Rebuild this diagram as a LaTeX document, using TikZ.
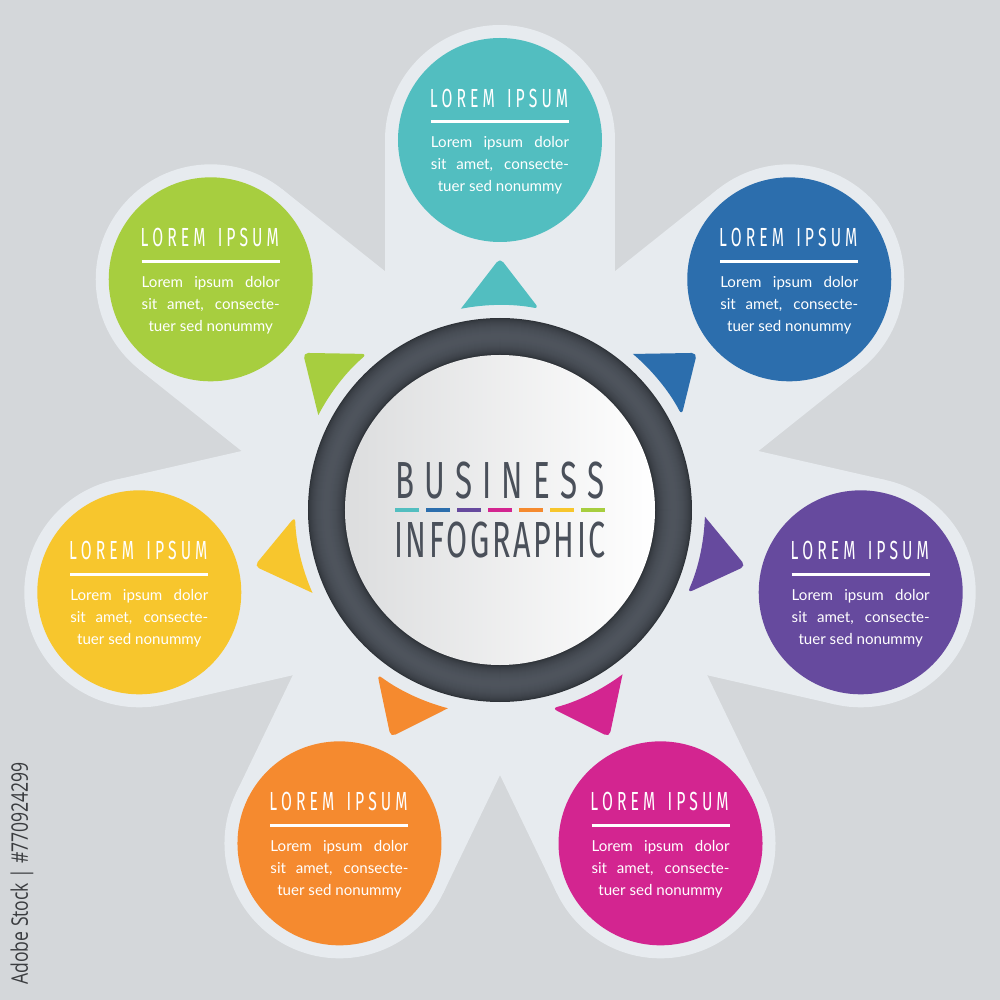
\documentclass[tikz,border=0pt]{standalone}
\usepackage{fontspec}
\setmainfont{Lato}
\newfontfamily\condfont{Fira Sans}[FakeStretch=0.6]
\newfontfamily\stockfont{Open Sans}
\usetikzlibrary{calc}

\definecolor{bgc}{HTML}{D4D7DA}
\definecolor{haloc}{HTML}{E7EBEF}
\definecolor{cteal}{HTML}{52BEC0}
\definecolor{cblue}{HTML}{2C6EAD}
\definecolor{cpurple}{HTML}{664A9E}
\definecolor{cmagenta}{HTML}{D32590}
\definecolor{corange}{HTML}{F58A2F}
\definecolor{cyellow}{HTML}{F7C62D}
\definecolor{cgreen}{HTML}{A7CE3F}
\definecolor{ringlo}{HTML}{2E3238}
\definecolor{ringhi}{HTML}{545A63}
\definecolor{diskg}{HTML}{DCDDDE}
\definecolor{ink}{HTML}{4A505A}
\definecolor{stockc}{HTML}{3A3C3F}

\makeatletter
\newcommand\track[2]{\def\trk@sep{}\@tfor\trk@c:=#2\do{\trk@sep\trk@c\def\trk@sep{\kern#1}}}
\makeatother

\tikzset{
  bubble/.style={circle, inner sep=0pt, minimum size=40.8mm},
  head/.style={inner sep=0pt, text=white, font=\condfont\fontsize{14.9}{15}\selectfont},
  body/.style={inner sep=0pt, anchor=base, text=white, font=\fontsize{8.6}{10}\selectfont},
  bigword/.style={inner sep=0pt, text=ink, font=\condfont\fontsize{29.7}{30}\selectfont}
}

\begin{document}
\begin{tikzpicture}[x=0.2mm, y=0.2mm]
  \useasboundingbox (-500,-490) rectangle (500,510);
  \fill[bgc] (-500,-490) rectangle (500,510);
  % light star behind the bubbles
  \foreach \i in {0,...,6}{
    \pgfmathsetmacro\a{90-\i*360/7}
    \fill[haloc, rotate=\a] (0,-115) rectangle (370,115);
    \fill[haloc] (\a:370) circle (115);
  }
  \node[inner sep=0pt, rotate=90, anchor=west, text=stockc, font=\stockfont\fontsize{13}{13}\selectfont] (stock) at (-478,-475) {\scalebox{0.77}[1]{Adobe Stock | \#770924299}};
  % dark ring and white disk
  \foreach \r in {192,191,...,156}{
    \pgfmathtruncatemacro\p{85*sin(180*(192-\r)/36)^0.6}
    \fill[ringhi!\p!ringlo] (0,0) circle (\r);
  }
  \node[circle, inner sep=0pt, minimum size=62mm, left color=diskg, right color=white] (disk) at (0,0) {};
  \node[bigword] (biz) at (0,29) {\track{5.8pt}{BUSINESS}};
  \node[bigword, font=\condfont\fontsize{28.9}{29}\selectfont] (info) at (0,-30.5) {\track{1.5pt}{INFOGRAPHIC}};
  \foreach \c [count=\k from 0] in {cteal,cblue,cpurple,cmagenta,corange,cyellow,cgreen}
    \fill[\c] (-105+\k*31,-2) rectangle ++(24,4);
  % bubbles, pointers and texts
  \foreach \i/\c in {0/cteal,1/cblue,2/cpurple,3/cmagenta,4/corange,5/cyellow,6/cgreen}{
    \pgfmathsetmacro\a{90-\i*360/7}
    \fill[\c] (\a+11:205) [rounded corners=3pt] -- (\a:252) -- (\a-11:205) [sharp corners] arc[start angle=\a-11, end angle=\a+11, radius=205] -- cycle;
    \node[bubble, fill=\c] (b\i) at (\a:370) {};
    \node[head] (h\i) at ($(b\i)+(-1,42)$) {\track{2.3pt}{LOREM~IPSUM}};
    \draw[white, line width=0.6mm] ($(b\i)+(-69,18)$) -- ($(b\i)+(69,18)$);
    \node[body] (l\i) at ($(b\i)+(0,-8)$) {\makebox[27.6mm][s]{Lorem ipsum dolor}};
    \node[body] (m\i) at ($(b\i)+(0,-30)$) {\makebox[27.6mm][s]{sit amet, consecte-}};
    \node[body] (n\i) at ($(b\i)+(0,-52)$) {tuer sed nonummy};
  }
\end{tikzpicture}
\end{document}
